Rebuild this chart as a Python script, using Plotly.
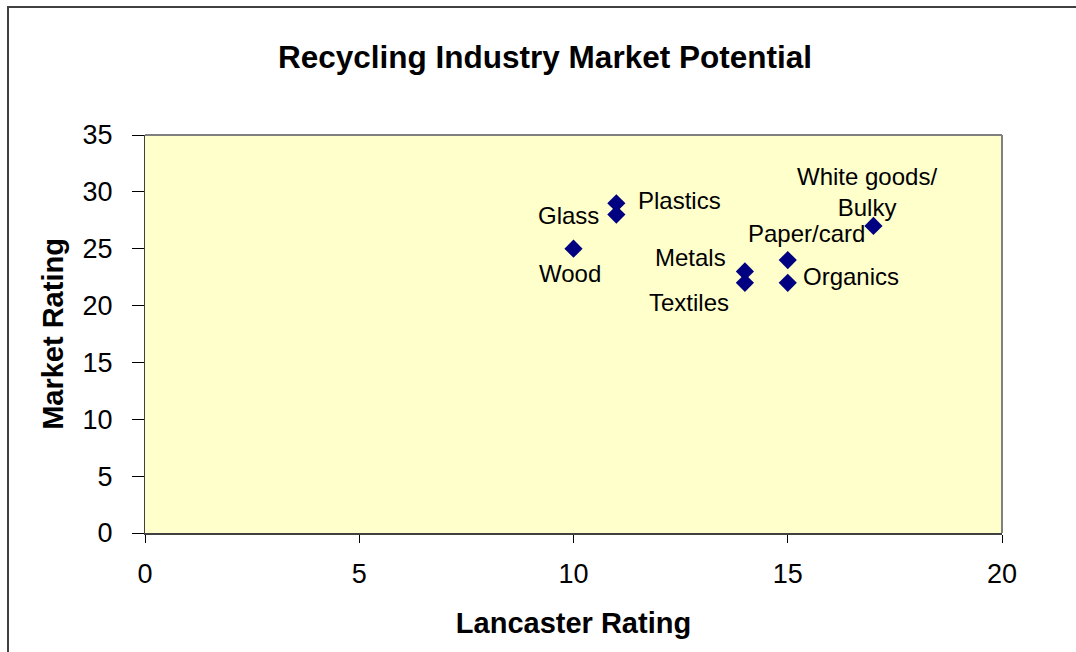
import plotly.graph_objects as go

# Ratings for each recycling stream
materials = ["Wood", "Glass", "Plastics", "Metals", "Textiles",
             "Paper/card", "Organics", "White goods/<br>Bulky"]
lancaster_rating = [10, 11, 11, 14, 14, 15, 15, 17]
market_rating = [25, 28, 29, 23, 22, 24, 22, 27]

# Label placement relative to each point: (xanchor, xshift, yshift) in pixels
label_offsets = [("center", -4, -25), ("right", -15, -1), ("left", 20, 3),
                 ("right", -17, 14), ("center", -56, -20), ("center", 19, 27),
                 ("left", 13, 6), ("center", -6, 34)]

x_ticks = [0, 5, 10, 15, 20]
y_ticks = [0, 5, 10, 15, 20, 25, 30, 35]

FONT = "Liberation Sans, Arial, sans-serif"

fig = go.Figure(go.Scatter(
    x=lancaster_rating,
    y=market_rating,
    mode="markers",
    marker=dict(symbol="diamond", size=14, color="#000080"),
    cliponaxis=False,
    showlegend=False,
))

for name, x, y, (anchor, dx, dy) in zip(materials, lancaster_rating,
                                        market_rating, label_offsets):
    fig.add_annotation(x=x, y=y, text=name, showarrow=False,
                       xanchor=anchor, yanchor="middle", xshift=dx, yshift=dy,
                       font=dict(family=FONT, size=24, color="black"))

W, H = 1076, 652
L, R, T, B = 145, 74, 135, 119
pw, ph = W - L - R, H - T - B

def px(x):
    return (x - L) / pw

def py(y):
    return (H - B - y) / ph

fig.update_layout(
    width=W, height=H,
    margin=dict(l=L, r=R, t=T, b=B),
    paper_bgcolor="white",
    plot_bgcolor="#FFFFCC",
    font=dict(family=FONT, color="black"),
    title=dict(text="<b>Recycling Industry Market Potential</b>",
               x=px(545), xref="paper", xanchor="center",
               y=1 - 57 / H, yanchor="middle",
               font=dict(size=31.5, family=FONT)),
    xaxis=dict(range=[0, 20], tickvals=x_ticks, showgrid=False, zeroline=False,
               ticks="outside", ticklen=8, tickcolor="black",
               ticklabelstandoff=8,
               showline=True, linecolor="#404040", linewidth=2,
               tickfont=dict(size=27), title=dict(text="<b>Lancaster Rating</b>",
                                                   font=dict(size=29), standoff=24)),
    yaxis=dict(range=[0, 35], tickvals=y_ticks, showgrid=False, zeroline=False,
               ticks="outside", ticklen=12, tickcolor="black",
               ticklabelstandoff=14,
               showline=True, linecolor="#404040", linewidth=1,
               tickfont=dict(size=27), title=dict(text="<b>Market Rating</b>",
                                                   font=dict(size=29), standoff=10)),
    shapes=[
        # gray frame on top/right of the plot area
        dict(type="line", xref="paper", yref="paper", x0=0, y0=1, x1=1, y1=1,
             line=dict(color="#808080", width=2)),
        dict(type="line", xref="paper", yref="paper", x0=1, y0=0, x1=1, y1=1,
             line=dict(color="#808080", width=2)),
        # outer chart border
        dict(type="rect", xref="paper", yref="paper",
             x0=px(8), y0=py(H + 20), x1=px(W + 20), y1=py(7),
             line=dict(color="#404040", width=2), layer="above"),
    ],
)

fig.write_html("out.html")
